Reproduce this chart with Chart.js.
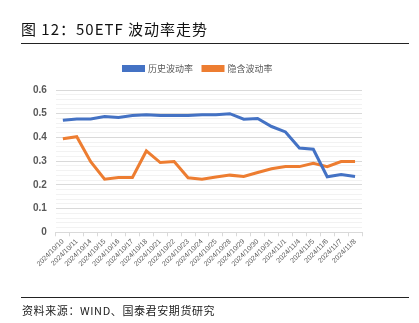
<!DOCTYPE html>
<html>
<head>
<meta charset="utf-8">
<script src="https://cdn.jsdelivr.net/npm/chart.js@4.4.0/dist/chart.umd.min.js"></script>
<style>
    html, body { margin: 0; padding: 0; background: #fff; }
    #wrap { position: relative; width: 419px; height: 323px; overflow: hidden; }
    #chart { position: absolute; left: 0; top: 0; }
    .title {
        position: absolute; left: 21px; top: 18px;
        font: 15px "Noto Sans CJK SC", "DejaVu Sans", sans-serif; color: #111;
        letter-spacing: 1px;
    }
    .rule { position: absolute; left: 21px; width: 388px; height: 1px; background: #222; }
    .source {
        position: absolute; left: 22px; top: 302px;
        font: 11px "Noto Sans CJK SC", "DejaVu Sans", sans-serif; color: #222;
        letter-spacing: 0.6px;
    }
</style>
</head>
<body>
<div id="wrap">
    <canvas id="chart" width="419" height="323"></canvas>
    <div class="title">图 12：50ETF 波动率走势</div>
    <div class="rule" style="top:43px"></div>
    <div class="rule" style="top:297px"></div>
    <div class="source">资料来源：WIND、国泰君安期货研究</div>
</div>
<script>
// trading days
const dates = [
    '2024/10/10', '2024/10/11', '2024/10/14', '2024/10/15', '2024/10/16', '2024/10/17',
    '2024/10/18', '2024/10/21', '2024/10/22', '2024/10/23', '2024/10/24', '2024/10/25',
    '2024/10/28', '2024/10/29', '2024/10/30', '2024/10/31', '2024/11/1', '2024/11/4',
    '2024/11/5', '2024/11/6', '2024/11/7', '2024/11/8'
];

// 历史波动率
const histVol = [
    0.472, 0.478, 0.478, 0.488, 0.484, 0.492, 0.496, 0.492, 0.492, 0.492, 0.496,
    0.496, 0.500, 0.477, 0.480, 0.446, 0.423, 0.355, 0.350, 0.234, 0.244, 0.235
];

// 隐含波动率
const implVol = [
    0.394, 0.403, 0.298, 0.224, 0.231, 0.231, 0.343, 0.294, 0.298, 0.230, 0.224,
    0.233, 0.241, 0.235, 0.252, 0.268, 0.277, 0.277, 0.291, 0.277, 0.298, 0.298
];

const yMajorTicks = [0, 0.1, 0.2, 0.3, 0.4, 0.5, 0.6];

const labelColor = '#595959';

function isMajor(v) {
    return yMajorTicks.some(t => Math.abs(t - v) < 1e-6);
}

// extra room under the legend, and nudge it a bit to the right
const legendTweak = {
    id: 'legendTweak',
    beforeInit(chart) {
        const legend = chart.legend;
        const fit = legend.fit;
        legend.fit = function () {
            fit.call(this);
            this.height += 7;
        };
        const draw = legend.draw;
        legend.draw = function () {
            const c = this.ctx;
            c.save();
            c.translate(5, 0);
            draw.call(this);
            c.restore();
        };
    }
};

const ctx = document.getElementById('chart').getContext('2d');

new Chart(ctx, {
    type: 'line',
    data: {
        labels: dates,
        datasets: [
            {
                label: '历史波动率',
                data: histVol,
                borderColor: '#4472C4',
                backgroundColor: '#4472C4',
                borderWidth: 3,
                pointRadius: 0,
                tension: 0
            },
            {
                label: '隐含波动率',
                data: implVol,
                borderColor: '#ED7D31',
                backgroundColor: '#ED7D31',
                borderWidth: 3,
                pointRadius: 0,
                tension: 0
            }
        ]
    },
    options: {
        responsive: false,
        animation: false,
        layout: {
            padding: { top: 54, left: 24, right: 57, bottom: 54 }
        },
        scales: {
            x: {
                offset: true,
                grid: {
                    offset: true,
                    drawOnChartArea: false,
                    color: '#d9d9d9',
                    tickLength: 4
                },
                border: { color: '#d9d9d9' },
                ticks: {
                    autoSkip: false,
                    maxRotation: 45,
                    minRotation: 45,
                    color: labelColor,
                    padding: 1,
                    font: { family: 'Liberation Sans, Arial, sans-serif', size: 7 }
                }
            },
            y: {
                min: 0,
                max: 0.6,
                grid: {
                    drawTicks: false,
                    color: c => isMajor(c.tick.value) ? '#d9d9d9' : '#f2f2f2'
                },
                border: { display: false },
                ticks: {
                    stepSize: 0.02,
                    autoSkip: false,
                    padding: 9,
                    color: labelColor,
                    font: { family: 'Liberation Sans, Arial, sans-serif', size: 10, weight: 'bold' },
                    callback: v => isMajor(v) ? String(Math.round(v * 10) / 10) : ''
                }
            }
        },
        plugins: {
            legend: {
                position: 'top',
                labels: {
                    boxWidth: 20,
                    boxHeight: 4,
                    padding: 10,
                    color: labelColor,
                    font: { family: 'Noto Sans CJK SC, sans-serif', size: 9 }
                }
            },
            tooltip: { enabled: false }
        }
    },
    plugins: [legendTweak]
});
</script>
</body>
</html>
